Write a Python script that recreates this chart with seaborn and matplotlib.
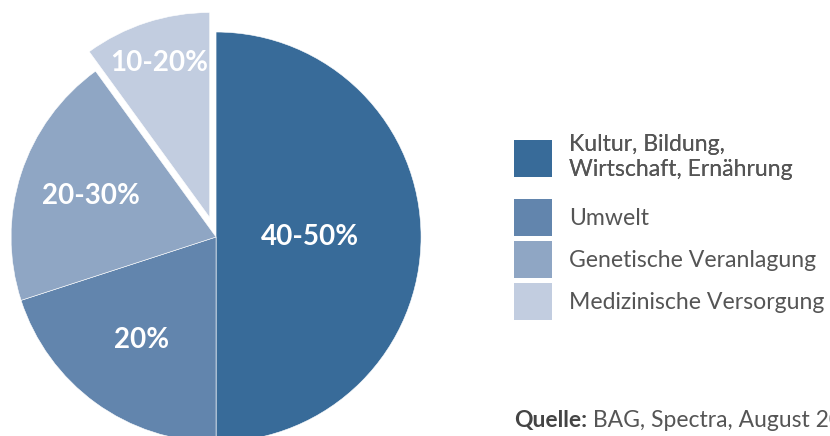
import numpy as np
import matplotlib.pyplot as plt
import seaborn as sns
from matplotlib.patches import Patch

# Data
categories = ['Kultur, Bildung,\nWirtschaft, Ernährung', 'Umwelt',
              'Genetische Veranlagung', 'Medizinische Versorgung']
shares = [50, 20, 20, 10]
share_labels = ['40-50%', '20%', '20-30%', '10-20%']
colors = ['#386b99', '#6285ad', '#8fa6c4', '#c2cde0']

sns.set_theme(style='white')
plt.rcParams['font.family'] = ['Lato', 'DejaVu Sans']

fig = plt.figure(figsize=(8.3, 4.36), dpi=100)
ax = fig.add_axes([-0.0361, -0.1078, 0.5928, 1.1284])

wedges, _ = ax.pie(shares, colors=colors, startangle=90, counterclock=False,
                   explode=[0, 0, 0, 0.1], radius=1,
                   wedgeprops=dict(edgecolor='white', linewidth=0.4))
ax.set_xlim(-1.2, 1.2)
ax.set_ylim(-1.2, 1.2)
ax.set_aspect('equal')
ax.axis('off')

# label distances from centre, per slice
label_dist = [0.46, 0.62, 0.64, 0.79]
for w, lab, d in zip(wedges, share_labels, label_dist):
    ang = np.deg2rad((w.theta1 + w.theta2) / 2)
    cx, cy = w.center
    ax.text(cx + d * np.cos(ang), cy + d * np.sin(ang), lab,
            ha='center', va='center', color='white', fontsize=20, fontweight='bold')

handles = [Patch(facecolor=c, edgecolor='none') for c in colors]
leg_kw = dict(loc='upper left', frameon=False, handlelength=1.65, handleheight=2.1,
              handletextpad=0.75, labelspacing=0.21, labelcolor='#555555',
              borderpad=0, borderaxespad=0, prop=dict(family='Lato', size=16.6))
# first (two-line) entry on its own, then the rest
leg1 = fig.legend(handles[:1], categories[:1], bbox_to_anchor=(0.619, 0.692), **leg_kw)
fig.add_artist(leg1)
fig.legend(handles[1:], categories[1:], bbox_to_anchor=(0.619, 0.5436), **leg_kw)

src = fig.text(0.619, 0.012, 'Quelle:', fontsize=16.5, fontweight='bold', color='#444444',
               va='bottom')
ax.annotate(' BAG, Spectra, August 2016', xy=(1, 0), xycoords=src, va='bottom',
            fontsize=16.5, color='#555555', annotation_clip=False)

fig.savefig('out.png', dpi=100)
